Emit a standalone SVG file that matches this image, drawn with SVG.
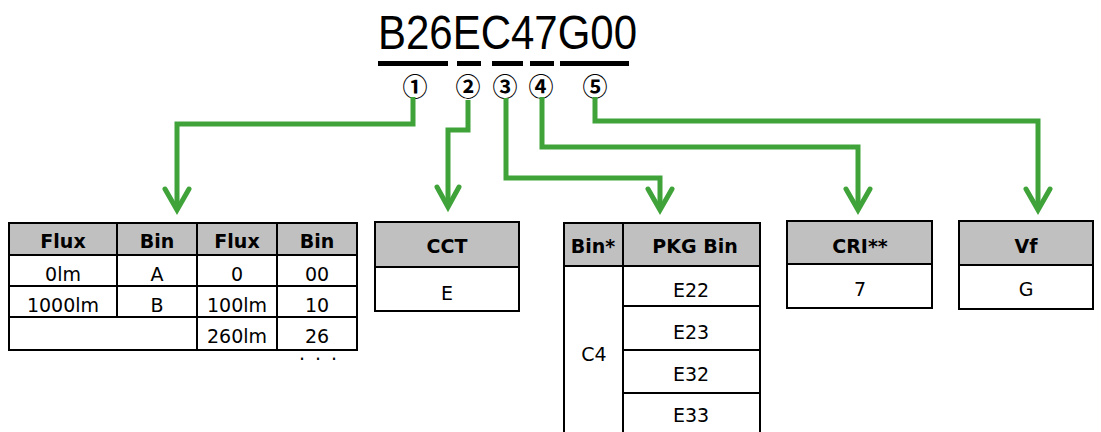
<svg xmlns="http://www.w3.org/2000/svg" width="1101" height="432" viewBox="0 0 1101 432">
<style>
.bg{fill:#ffffff}
.hdr{fill:#c0c0c0}
.ln{stroke:#000;stroke-width:2;fill:none}
.ul{fill:#000}
.th{font-family:"DejaVu Sans","Noto Sans",sans-serif;font-weight:bold;font-size:19px;text-anchor:middle;fill:#000}
.td{font-family:"DejaVu Sans","Noto Sans",sans-serif;font-size:19px;text-anchor:middle;fill:#000}
.num{font-family:"Noto Sans CJK JP","DejaVu Sans",sans-serif;font-weight:bold;font-size:25px;text-anchor:middle;dominant-baseline:central;fill:#000}
.con{stroke:#3fa33a;stroke-width:5;fill:none;stroke-linejoin:miter}
.head{stroke:#3fa33a;stroke-width:5;fill:none;stroke-linecap:round;stroke-linejoin:miter}
</style>
<rect class="bg" x="0" y="0" width="1101" height="432"/>
<g id="code">
<text x="378" y="49" font-family="Liberation Sans, Arial, sans-serif" font-size="49" textLength="259" lengthAdjust="spacingAndGlyphs" fill="#000">B26EC47G00</text>
<rect class="ul" x="378" y="61" width="70" height="5"/>
<rect class="ul" x="457" y="61" width="24" height="5"/>
<rect class="ul" x="492" y="61" width="31" height="5"/>
<rect class="ul" x="530" y="61" width="24" height="5"/>
<rect class="ul" x="560" y="61" width="69" height="5"/>
<text class="num" x="415" y="85">①</text>
<text class="num" x="468" y="85">②</text>
<text class="num" x="505" y="85">③</text>
<text class="num" x="541" y="85">④</text>
<text class="num" x="595" y="85">⑤</text>
</g>
<g id="connectors">
<path class="con" d="M413,97 V124 H177 V207"/>
<path class="head" d="M165,189 L177,210 L189,189"/>
<path class="con" d="M468,100 V130 H448 V205"/>
<path class="head" d="M437,187 L448,207 L459,187"/>
<path class="con" d="M506,98 V178 H660 V207"/>
<path class="head" d="M648,189 L660,210 L672,189"/>
<path class="con" d="M542,97 V147 H858 V207"/>
<path class="head" d="M846,189 L858,210 L870,189"/>
<path class="con" d="M595,97 V121 H1038 V207"/>
<path class="head" d="M1026,189 L1038,210 L1050,189"/>
</g>
<g id="flux-table">
<rect class="hdr" x="9" y="223" width="348" height="32"/>
<rect class="ln" x="9" y="223" width="348" height="127"/>
<path class="ln" d="M9,255 H357 M9,286 H357 M9,317 H357 M117,223 V317 M197,223 V350 M277,223 V350"/>
<text class="th" x="63" y="248">Flux</text>
<text class="th" x="157" y="248">Bin</text>
<text class="th" x="237" y="248">Flux</text>
<text class="th" x="317" y="248">Bin</text>
<text class="td" x="63" y="281">0lm</text>
<text class="td" x="157" y="281">A</text>
<text class="td" x="237" y="281">0</text>
<text class="td" x="317" y="281">00</text>
<text class="td" x="63" y="312">1000lm</text>
<text class="td" x="157" y="312">B</text>
<text class="td" x="237" y="312">100lm</text>
<text class="td" x="317" y="312">10</text>
<text class="td" x="237" y="343">260lm</text>
<text class="td" x="317" y="343">26</text>
<text class="td" x="319" y="366" font-size="12" letter-spacing="2">· · ·</text>
</g>
<g id="cct-table">
<rect class="hdr" x="375" y="222" width="144" height="45"/>
<rect class="ln" x="375" y="222" width="144" height="89"/>
<path class="ln" d="M375,267 H519"/>
<text class="th" x="447" y="253">CCT</text>
<text class="td" x="447" y="300">E</text>
</g>
<g id="bin-table">
<rect class="hdr" x="564" y="223" width="196" height="43"/>
<path class="ln" d="M564,223 H760 M564,266 H760 M623,306 H760 M623,350 H760 M623,393 H760 M564,222 V432 M623,223 V432 M760,222 V432"/>
<text class="th" x="593" y="253">Bin*</text>
<text class="th" x="695" y="253">PKG Bin</text>
<text class="td" x="594" y="361">C4</text>
<text class="td" x="691" y="297">E22</text>
<text class="td" x="691" y="339">E23</text>
<text class="td" x="691" y="381">E32</text>
<text class="td" x="691" y="422">E33</text>
</g>
<g id="cri-table">
<rect class="hdr" x="787" y="221" width="145" height="43"/>
<rect class="ln" x="787" y="221" width="145" height="87"/>
<path class="ln" d="M787,264 H932"/>
<text class="th" x="860" y="253">CRI**</text>
<text class="td" x="860" y="296">7</text>
</g>
<g id="vf-table">
<rect class="hdr" x="959" y="221" width="134" height="44"/>
<rect class="ln" x="959" y="221" width="134" height="88"/>
<path class="ln" d="M959,265 H1093"/>
<text class="th" x="1026" y="253">Vf</text>
<text class="td" x="1026" y="296">G</text>
</g>
</svg>
